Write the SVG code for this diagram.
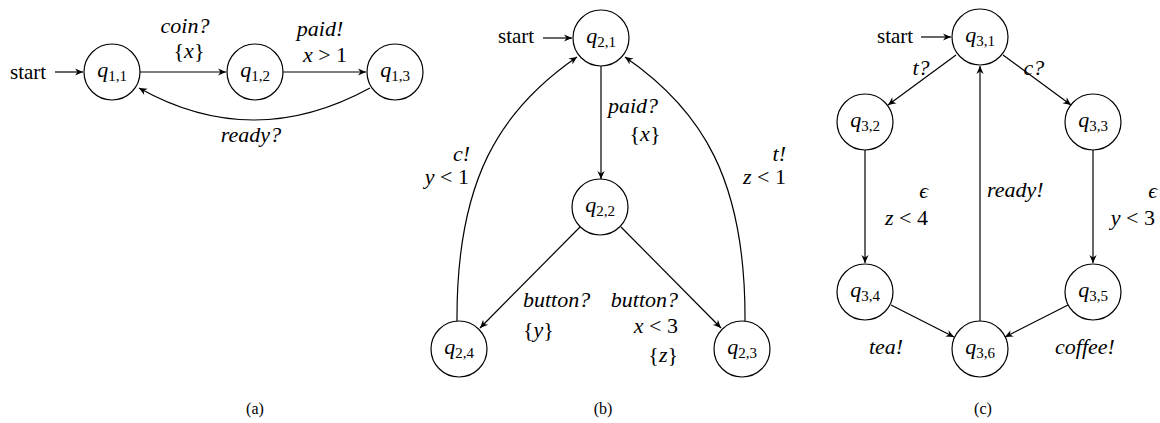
<svg xmlns="http://www.w3.org/2000/svg" width="1160" height="423" viewBox="0 0 1160 423">
<defs>
<marker id="ah" viewBox="-10 -5 11 10" refX="0" refY="0" markerWidth="11" markerHeight="10" markerUnits="userSpaceOnUse" orient="auto">
<path d="M0,0 L-8,-3.6 L-5.5,0 L-8,3.6 Z" fill="#000"/>
</marker>
</defs>

<g id="edges" fill="none" stroke="#000" stroke-width="1.2" marker-end="url(#ah)">
<path d="M55,72 L83,72"/>
<path d="M140,72 L226,72"/>
<path d="M283,72 L366,72"/>
<path d="M370,88 Q253,152 139,88"/>
<path d="M543,38 L572,38"/>
<path d="M601,66 L601,179"/>
<path d="M580,227 L480,328"/>
<path d="M621,227 L721,328"/>
<path d="M457,322 C456,180 500,110 577,57"/>
<path d="M745,322 C746,180 702,110 625,57"/>
<path d="M921,37 L951,37"/>
<path d="M956,55 L888,105"/>
<path d="M1003,55 L1071,105"/>
<path d="M865,150 L865,263"/>
<path d="M1093,150 L1093,263"/>
<path d="M980,321 L980,66"/>
<path d="M891,305 L954,337"/>
<path d="M1068,305 L1005,337"/>
</g>

<g id="labels" font-family="Liberation Serif" font-size="22" fill="#000">
<text x="10" y="79" font-size="21">start</text>
<text x="185" y="33" font-style="italic" text-anchor="middle">coin?</text>
<text x="189" y="58" text-anchor="middle">{<tspan font-style="italic">x</tspan>}</text>
<text x="320" y="36" font-style="italic" text-anchor="middle">paid!</text>
<text x="325" y="62" text-anchor="middle"><tspan font-style="italic">x</tspan> &gt; 1</text>
<text x="251" y="142" font-style="italic" text-anchor="middle">ready?</text>

<text x="498" y="43" font-size="21">start</text>
<text x="608" y="113" font-style="italic">paid?</text>
<text x="645" y="141" text-anchor="middle">{<tspan font-style="italic">x</tspan>}</text>
<text x="470" y="161" font-style="italic" text-anchor="end">c!</text>
<text x="469" y="184" text-anchor="end"><tspan font-style="italic">y</tspan> &lt; 1</text>
<text x="786" y="161" font-style="italic" text-anchor="end">t!</text>
<text x="786" y="184" text-anchor="end"><tspan font-style="italic">z</tspan> &lt; 1</text>
<text x="523" y="307" font-style="italic">button?</text>
<text x="523" y="337">{<tspan font-style="italic">y</tspan>}</text>
<text x="678" y="307" font-style="italic" text-anchor="end">button?</text>
<text x="678" y="333" text-anchor="end"><tspan font-style="italic">x</tspan> &lt; 3</text>
<text x="678" y="362" text-anchor="end">{<tspan font-style="italic">z</tspan>}</text>

<text x="877" y="43" font-size="21">start</text>
<text x="921" y="75" font-style="italic" text-anchor="middle">t?</text>
<text x="1034" y="75" font-style="italic" text-anchor="middle">c?</text>
<text x="928" y="198" font-style="italic" text-anchor="end">ϵ</text>
<text x="928" y="225" text-anchor="end"><tspan font-style="italic">z</tspan> &lt; 4</text>
<text x="987" y="197" font-style="italic">ready!</text>
<text x="1157" y="198" font-style="italic" text-anchor="end">ϵ</text>
<text x="1155" y="225" text-anchor="end"><tspan font-style="italic">y</tspan> &lt; 3</text>
<text x="886" y="354" font-style="italic" text-anchor="middle">tea!</text>
<text x="1085" y="354" font-style="italic" text-anchor="middle">coffee!</text>
</g>

<g id="nodes" font-family="Liberation Serif" font-size="22" text-anchor="middle" fill="#000">
<g id="q11"><circle cx="112" cy="72" r="28" fill="#fff" stroke="#000" stroke-width="1.2"/><text x="112" y="77"><tspan font-style="italic">q</tspan><tspan font-size="15" dy="4">1,1</tspan></text></g>
<g id="q12"><circle cx="255" cy="72" r="28" fill="#fff" stroke="#000" stroke-width="1.2"/><text x="255" y="77"><tspan font-style="italic">q</tspan><tspan font-size="15" dy="4">1,2</tspan></text></g>
<g id="q13"><circle cx="395" cy="72" r="28" fill="#fff" stroke="#000" stroke-width="1.2"/><text x="395" y="77"><tspan font-style="italic">q</tspan><tspan font-size="15" dy="4">1,3</tspan></text></g>
<g id="q21"><circle cx="601" cy="38" r="28" fill="#fff" stroke="#000" stroke-width="1.2"/><text x="601" y="43"><tspan font-style="italic">q</tspan><tspan font-size="15" dy="4">2,1</tspan></text></g>
<g id="q22"><circle cx="600" cy="207" r="28" fill="#fff" stroke="#000" stroke-width="1.2"/><text x="600" y="212"><tspan font-style="italic">q</tspan><tspan font-size="15" dy="4">2,2</tspan></text></g>
<g id="q23"><circle cx="742" cy="349" r="28" fill="#fff" stroke="#000" stroke-width="1.2"/><text x="742" y="354"><tspan font-style="italic">q</tspan><tspan font-size="15" dy="4">2,3</tspan></text></g>
<g id="q24"><circle cx="459" cy="349" r="28" fill="#fff" stroke="#000" stroke-width="1.2"/><text x="459" y="354"><tspan font-style="italic">q</tspan><tspan font-size="15" dy="4">2,4</tspan></text></g>
<g id="q31"><circle cx="980" cy="37" r="28" fill="#fff" stroke="#000" stroke-width="1.2"/><text x="980" y="42"><tspan font-style="italic">q</tspan><tspan font-size="15" dy="4">3,1</tspan></text></g>
<g id="q32"><circle cx="865" cy="122" r="28" fill="#fff" stroke="#000" stroke-width="1.2"/><text x="865" y="127"><tspan font-style="italic">q</tspan><tspan font-size="15" dy="4">3,2</tspan></text></g>
<g id="q33"><circle cx="1093" cy="122" r="28" fill="#fff" stroke="#000" stroke-width="1.2"/><text x="1093" y="127"><tspan font-style="italic">q</tspan><tspan font-size="15" dy="4">3,3</tspan></text></g>
<g id="q34"><circle cx="865" cy="292" r="28" fill="#fff" stroke="#000" stroke-width="1.2"/><text x="865" y="297"><tspan font-style="italic">q</tspan><tspan font-size="15" dy="4">3,4</tspan></text></g>
<g id="q35"><circle cx="1093" cy="292" r="28" fill="#fff" stroke="#000" stroke-width="1.2"/><text x="1093" y="297"><tspan font-style="italic">q</tspan><tspan font-size="15" dy="4">3,5</tspan></text></g>
<g id="q36"><circle cx="980" cy="349" r="28" fill="#fff" stroke="#000" stroke-width="1.2"/><text x="980" y="354"><tspan font-style="italic">q</tspan><tspan font-size="15" dy="4">3,6</tspan></text></g>
</g>

<g id="captions" font-family="Liberation Serif" font-size="16" text-anchor="middle" fill="#000">
<text x="255" y="414">(a)</text>
<text x="603" y="414">(b)</text>
<text x="983" y="414">(c)</text>
</g>
</svg>
